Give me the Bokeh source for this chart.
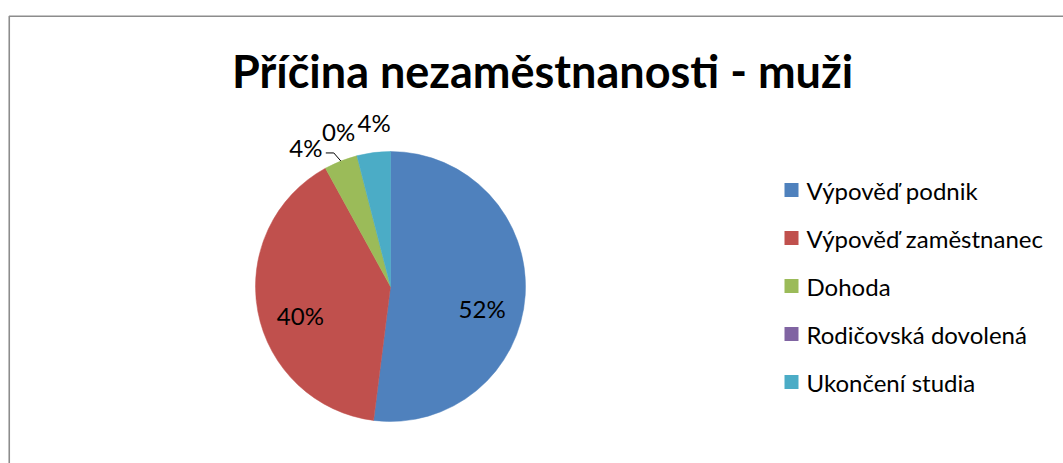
import math
from bokeh.plotting import figure
from bokeh.models import Range1d, ColumnDataSource
from bokeh.core.properties import value
from bokeh.embed import file_html
from bokeh.resources import INLINE

# ---- data ----
title = "Příčina nezaměstnanosti - muži"
categories = ["Výpověď podnik", "Výpověď zaměstnanec", "Dohoda",
              "Rodičovská dovolená", "Ukončení studia"]
counts = [13, 10, 1, 0, 1]
colors = ["#4F81BD", "#C0504D", "#9BBB59", "#8064A2", "#4BACC6"]

# ---- layout ----
W, H = 1063, 463
FONT = "Lato"
p = figure(width=W, height=H, output_backend="svg", toolbar_location=None,
           x_range=Range1d(0, W), y_range=Range1d(0, H),
           x_axis_location=None, y_axis_location=None,
           min_border=0, outline_line_color=None)
p.grid.visible = False
p.background_fill_color = "white"
p.border_fill_color = "white"

def py(y_page):
    return H - y_page

def px(x_page):
    return x_page

# chart border (cut by window on right/bottom)
p.line(x=[px(8.75), px(8.75), W + 5], y=[-5, py(15.8), py(15.8)],
       line_color="#8C8C8C", line_width=1.6)

# title
p.text(x=[px(542)], y=[py(70)], text=[title], text_font=value(FONT),
       text_font_style="bold", text_font_size="45px", text_align="center",
       text_baseline="middle", text_color="black")

# pie
cx, cy, R = px(390), py(286), 135
total = sum(counts)
fracs = [c / total for c in counts]
cum = [0.0]
for f in fracs:
    cum.append(cum[-1] + f)

ws = dict(start=[], end=[], color=[])
for i, f in enumerate(fracs):
    if f <= 0:
        continue
    ws["start"].append(math.pi / 2 - 2 * math.pi * cum[i])
    ws["end"].append(math.pi / 2 - 2 * math.pi * cum[i + 1])
    ws["color"].append(colors[i])
p.wedge(x=cx, y=cy, radius=R, start_angle="start", end_angle="end",
        direction="clock", fill_color="color", line_color="color",
        line_width=0.5, source=ColumnDataSource(ws))

labels = [f"{round(100 * f)}%" for f in fracs]
mid_deg = [360 * (cum[i] + cum[i + 1]) / 2 for i in range(len(fracs))]  # clockwise from top

lx, ly, lt = [], [], []
# inside labels
for i, f in enumerate(fracs):
    if f >= 0.1:
        a = math.radians(mid_deg[i])
        lx.append(cx + 0.68 * R * math.sin(a))
        ly.append(cy + 0.4 * R * math.cos(a) - 19)
        lt.append(labels[i])

# outside labels with collision avoidance
small = [i for i, f in enumerate(fracs) if f < 0.1]
small.sort(key=lambda i: -mid_deg[i])
prev = None
SEP = 13
for i in small:
    ang = mid_deg[i]
    if prev is not None and ang > prev - SEP:
        ang = prev - SEP
    prev = ang
    a = math.radians(ang)
    x = cx + 1.2 * R * math.sin(a) + 4
    y = cy + 1.2 * R * math.cos(a) + 3
    lx.append(x)
    ly.append(y)
    lt.append(labels[i])
    if fracs[i] > 0 and abs(ang - mid_deg[i]) > 3:
        an = math.radians(mid_deg[i])
        ex = cx + R * math.sin(an)
        ey = cy + R * math.cos(an)
        hy = y - 5
        p.line(x=[ex, ex - 7, x + 20], y=[ey, hy, hy], line_color="black",
               line_width=1)

p.text(x=lx, y=ly, text=lt, text_font=value(FONT), text_font_size="24px",
       text_align="center", text_baseline="middle", text_color="black")

# legend
leg_x = px(791)
leg_top = py(189.5)
step = 48
ys = [leg_top - k * step for k in range(len(categories))]
p.rect(x=[leg_x] * len(categories), y=ys, width=14, height=14,
       fill_color=colors, line_color=None)
p.text(x=[px(806)] * len(categories), y=ys, text=categories,
       text_font=value(FONT), text_font_size="24px", text_align="left",
       text_baseline="middle", text_color="black")

open("out.html", "w").write(file_html(p, INLINE))
